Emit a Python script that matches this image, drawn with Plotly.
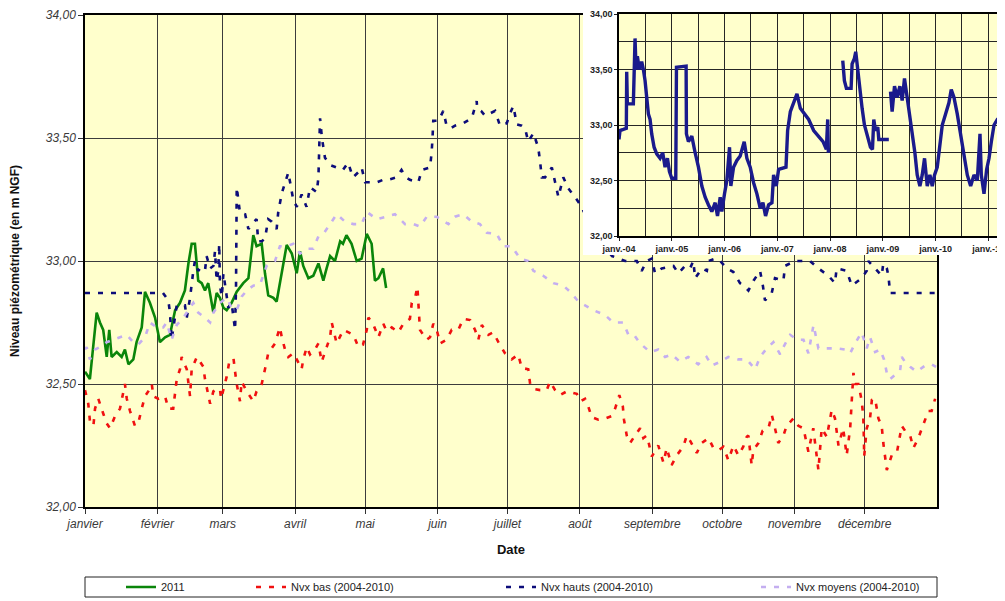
import plotly.graph_objects as go
import pandas as pd

# ---------------- data (main chart: day of year 2011, level in m NGF) ----------------
months_fr = ["janvier", "février", "mars", "avril", "mai", "juin", "juillet",
             "août", "septembre", "octobre", "novembre", "décembre"]

y2011_days = [0, 2.1, 5, 6.4, 7.8, 9.3, 10.4, 11.4, 13.6, 15.7, 17.1, 18.6, 20.7, 22.1, 24.3, 25.7,
              27.8, 30, 32.1, 34.3, 36.4, 38.6, 40.7, 42.8, 44.3, 45.7, 47.1, 48.5, 50, 51.4, 52.8,
              55, 56.4, 57.8, 59.3, 60.7, 62.8, 65, 67.8, 70, 72.1, 73.5, 75.7, 77.1, 78.5, 80.7,
              82.1, 83.5, 85, 86.4, 88.6, 90.7, 92.1, 93.5, 95.7, 97.8, 100, 102.1, 103.5, 105,
              107.1, 109.3, 110.5, 112, 114.2, 116.4, 118.5, 120.7, 122.8, 124.2, 125.7, 127.7, 129]
y2011_vals = [32.55, 32.52, 32.79, 32.75, 32.72, 32.61, 32.72, 32.61, 32.63, 32.61, 32.64, 32.58,
              32.60, 32.67, 32.73, 32.875, 32.83, 32.77, 32.67, 32.69, 32.70, 32.80, 32.83, 32.88,
              32.99, 33.07, 33.07, 32.92, 32.91, 32.88, 32.91, 32.79, 32.87, 32.85, 32.81, 32.80,
              32.83, 32.875, 32.91, 32.93, 33.105, 33.06, 33.07, 32.95, 32.86, 32.85, 32.835, 32.91,
              32.99, 33.065, 33.03, 32.95, 33.04, 32.98, 32.93, 32.94, 32.99, 32.92, 32.97, 33.02,
              33.00, 33.08, 33.07, 33.105, 33.07, 33.00, 33.01, 33.11, 33.07, 32.92, 32.93, 32.97, 32.89]

bas_days = [0, 1.4, 2.1, 3.6, 4.3, 5.7, 7.8, 9.3, 10.7, 12.9, 15, 16.4, 17.1, 17.9, 19.3, 21.4, 22.8,
            24.3, 25.7, 27.1, 28.6, 29.3, 31.4, 34.3, 35.7, 37.8, 38.6, 39.3, 40.7, 41.4, 43.6, 44.3,
            45, 45.7, 47.9, 50.7, 51.4, 53.6, 55, 56.4, 57.8, 58.3, 60.7, 61.8, 63.6, 64.3, 65, 66.4,
            67.1, 69.3, 72.1, 73.5, 75.7, 77.1, 78.5, 81.4, 83.5, 84.3, 85.7, 87.1, 89.2, 90.7, 92.8,
            93.5, 95, 96.4, 98.5, 100, 101.4, 102.8, 105, 105.7, 107.8, 110.7, 112.7, 115, 117.1,
            119.1, 120.7, 121.4, 123.4, 125.7, 127.8, 129.2, 131.4, 134.2, 136.4, 139.2, 140, 141.4,
            142.4, 142.8, 143.1, 143.5, 144.9, 146.4, 147.8, 149.2, 150.7, 152.1, 154.9, 157.1,
            159.9, 162.1, 165, 167.1, 168.5, 170, 172.8, 174.9, 177.1, 179.9, 182.8, 185.6, 187.1,
            189.9, 190.7, 192.1, 195, 197.8, 199.2, 201.4, 203.5, 206.4, 210.7, 212.4, 214.2, 215.2,
            217.1, 219.9, 222.8, 225.7, 227.1, 228.9, 230.4, 230.9, 232.1, 233.5, 235.6, 237.8,
            239.2, 240.6, 241.4, 242.8, 245.6, 247.8, 249.2, 251.3, 253.5, 256.3, 257.8, 259.2,
            262.1, 264.2, 267.1, 269.2, 271.3, 273.5, 275.6, 277.8, 279.9, 282, 283.5, 284.2, 285.6,
            286.3, 288.5, 290.3, 292.8, 294.2, 295.6, 297, 299.2, 300.6, 303.5, 305.6, 307.8, 309.9,
            312, 312.8, 314.2, 315.6, 317.8, 319.9, 321.3, 322.8, 324.8, 326.3, 327.8, 328.5, 329.2,
            329.9, 331.3, 332.7, 333.4, 333.7, 333.8, 334.9, 336.3, 337.1, 338.5, 339.9, 341.3, 342,
            342.8, 343.5, 345.6, 347.8, 349.9, 351.3, 353.5, 354.9, 357, 359.2, 361.3, 362.7, 364.2]
bas_vals = [32.475, 32.42, 32.35, 32.33, 32.40, 32.44, 32.38, 32.34, 32.32, 32.37, 32.40, 32.47, 32.50,
            32.44, 32.39, 32.33, 32.34, 32.40, 32.45, 32.47, 32.50, 32.45, 32.44, 32.45, 32.40, 32.40,
            32.46, 32.52, 32.56, 32.61, 32.56, 32.50, 32.45, 32.56, 32.61, 32.57, 32.52, 32.42, 32.47,
            32.48, 32.48, 32.44, 32.53, 32.59, 32.605, 32.55, 32.50, 32.43, 32.51, 32.47, 32.43, 32.47,
            32.50, 32.56, 32.625, 32.665, 32.73, 32.69, 32.64, 32.61, 32.625, 32.60, 32.56, 32.60,
            32.65, 32.62, 32.64, 32.665, 32.59, 32.63, 32.69, 32.75, 32.665, 32.72, 32.71, 32.70,
            32.65, 32.66, 32.72, 32.77, 32.745, 32.69, 32.745, 32.715, 32.73, 32.71, 32.745, 32.765,
            32.83, 32.85, 32.895, 32.84, 32.78, 32.72, 32.70, 32.68, 32.69, 32.745, 32.72, 32.665,
            32.68, 32.72, 32.72, 32.765, 32.76, 32.72, 32.68, 32.74, 32.70, 32.71, 32.67, 32.625,
            32.60, 32.62, 32.565, 32.56, 32.50, 32.48, 32.475, 32.475, 32.51, 32.475, 32.455, 32.47,
            32.46, 32.43, 32.44, 32.42, 32.365, 32.355, 32.36, 32.37, 32.40, 32.455, 32.41, 32.355,
            32.29, 32.26, 32.29, 32.32, 32.28, 32.29, 32.265, 32.205, 32.25, 32.18, 32.24, 32.17,
            32.21, 32.245, 32.29, 32.27, 32.22, 32.26, 32.28, 32.24, 32.23, 32.245, 32.19, 32.25,
            32.21, 32.245, 32.285, 32.29, 32.17, 32.23, 32.26, 32.31, 32.32, 32.375, 32.32, 32.26,
            32.29, 32.33, 32.36, 32.33, 32.32, 32.225, 32.32, 32.265, 32.15, 32.32, 32.285, 32.395,
            32.36, 32.25, 32.32, 32.21, 32.32, 32.435, 32.545, 32.50, 32.50, 32.435, 32.37, 32.27,
            32.205, 32.32, 32.36, 32.435, 32.44, 32.36, 32.33, 32.26, 32.205, 32.15, 32.21, 32.22,
            32.33, 32.31, 32.29, 32.24, 32.28, 32.34, 32.39, 32.39, 32.44]

hauts_days = [0, 33.4, 35.7, 36.4, 37.1, 37.8, 39.3, 40.7, 42.8, 43.6, 45, 46.4, 47.1, 48.5, 49.3, 51.4,
              52.1, 53.6, 55, 55.7, 56.4, 57.1, 57.5, 57.8, 58.6, 59.3, 60.7, 61.4, 62.8, 63.6, 64.3,
              64.7, 65, 66.4, 68.6, 70, 71.4, 73.5, 74.2, 75.7, 77.1, 78.5, 80, 82.1, 82.8, 84.3, 85.7,
              87.1, 89.2, 90.7, 92.8, 94.9, 96.4, 99.3, 100, 100.7, 101.5, 102.8, 105, 107.5, 110.5,
              112.7, 114.8, 117, 118.5, 120, 122.5, 125, 127.7, 129.8, 133.5, 135.6, 137.5, 139.2,
              142.8, 144.3, 147.8, 148.5, 148.9, 149.2, 151.4, 153.5, 154.9, 156.8, 158.5, 162.1,
              165.7, 167.8, 168, 169.7, 171.4, 173.5, 175.7, 177.8, 180.7, 182.1, 183.5, 185, 187.1,
              188.5, 189.9, 192.1, 194.2, 195, 195.7, 197.1, 200, 201.4, 202.8, 204.9, 207.1, 209.9,
              212.1, 216.4, 220.7, 225.8, 231.4, 236.4, 238.5, 240.6, 242.8, 244.2, 247.1, 252.1,
              254.2, 257.1, 259.2, 260.6, 261.4, 264.3, 266.4, 267.1, 270, 272.1, 274.9, 277.8, 280.6,
              282.1, 284.2, 286.4, 289.2, 290.4, 291.3, 294.2, 295.6, 299.2, 299.9, 304.2, 310.6,
              314.2, 318.5, 321.3, 322, 326.3, 328.5, 332.7, 334.9, 335.6, 338.5, 341.3, 342, 343.5,
              344.2, 344.9, 364.6]
hauts_vals = [32.87, 32.87, 32.84, 32.79, 32.68, 32.72, 32.82, 32.82, 32.82, 32.77, 32.85, 32.96, 33.00,
              32.96, 32.97, 32.96, 33.02, 32.97, 32.98, 33.04, 32.92, 32.96, 33.07, 32.90, 32.855, 32.95,
              32.855, 32.81, 32.83, 32.76, 32.72, 32.90, 33.30, 33.195, 33.19, 33.13, 33.15, 33.17,
              33.08, 33.08, 33.09, 33.17, 33.16, 33.13, 33.20, 33.275, 33.32, 33.36, 33.25, 33.22,
              33.27, 33.22, 33.30, 33.28, 33.34, 33.58, 33.50, 33.42, 33.39, 33.38, 33.37, 33.40,
              33.34, 33.36, 33.38, 33.32, 33.32, 33.32, 33.33, 33.33, 33.34, 33.37, 33.34, 33.33,
              33.32, 33.37, 33.38, 33.44, 33.505, 33.57, 33.57, 33.61, 33.55, 33.54, 33.55, 33.56,
              33.58, 33.65, 33.62, 33.61, 33.59, 33.60, 33.61, 33.55, 33.56, 33.60, 33.63, 33.555,
              33.55, 33.54, 33.485, 33.52, 33.46, 33.40, 33.34, 33.34, 33.38, 33.32, 33.26, 33.34,
              33.295, 33.26, 33.23, 33.15, 33.08, 33.02, 33.00, 33.00, 32.96, 33.00, 33.01, 32.95,
              32.97, 32.98, 32.95, 32.98, 32.97, 33.00, 32.93, 32.97, 32.96, 33.00, 33.01, 33.00,
              32.97, 32.955, 32.91, 32.90, 32.88, 32.92, 32.96, 32.90, 32.84, 32.87, 32.93, 32.92,
              32.98, 33.00, 33.00, 32.97, 32.94, 32.91, 32.97, 32.96, 32.90, 32.93, 32.96, 33.00,
              32.97, 32.94, 32.99, 32.97, 32.94, 32.87, 32.87]

moyens_days = [0, 0.7, 2.1, 4.3, 6.4, 9.3, 12.1, 15, 17.9, 20.7, 22.8, 25.7, 27.8, 30.7, 33.5, 35,
               37.1, 39.3, 42.1, 44.3, 46.4, 48.5, 51.4, 53.6, 55, 57.8, 60.7, 62.8, 65, 67.1, 69.3,
               72.1, 75, 77.8, 81.4, 83.5, 86.4, 89.2, 92.1, 95, 97.8, 100, 102.1, 105, 107.8, 111.4,
               115, 118.5, 120.7, 125, 128.5, 132.8, 137.1, 140.7, 143.5, 146.4, 150.7, 155.7, 158.5,
               162.1, 165.7, 169.2, 172.1, 176.4, 179.2, 182.8, 186.4, 189.9, 192.1, 196.3, 200.6,
               204.9, 207.8, 211.4, 214.2, 217.8, 222.8, 226.3, 230.6, 232.8, 235.2, 237.8, 242.1,
               245.6, 248.5, 251.4, 254.9, 258.4, 262.7, 266.3, 268.5, 272.1, 275.6, 279.9, 283.5,
               287.1, 289.2, 292.1, 294.9, 297.8, 299.2, 302.1, 305, 307.8, 309.9, 311.4, 312.1,
               314.2, 318.5, 322.1, 325.7, 327.8, 329.9, 332.7, 334.9, 336.3, 338.5, 340.6, 342.3,
               343.5, 344.9, 349.2, 349.9, 351.3, 353.5, 356.3, 359.9, 362.7, 364.6]
moyens_vals = [32.64, 32.65, 32.60, 32.64, 32.65, 32.67, 32.68, 32.69, 32.70, 32.67, 32.66, 32.69,
               32.75, 32.73, 32.73, 32.75, 32.68, 32.74, 32.77, 32.80, 32.83, 32.79, 32.77, 32.75,
               32.79, 32.83, 32.85, 32.81, 32.80, 32.855, 32.88, 32.90, 32.905, 32.98, 33.00, 33.06,
               33.06, 33.07, 33.03, 33.05, 33.05, 33.10, 33.11, 33.15, 33.19, 33.16, 33.15, 33.15,
               33.20, 33.17, 33.18, 33.19, 33.15, 33.15, 33.14, 33.18, 33.18, 33.15, 33.18, 33.19,
               33.16, 33.15, 33.115, 33.11, 33.06, 33.06, 33.01, 33.00, 32.96, 32.94, 32.91, 32.90,
               32.875, 32.835, 32.82, 32.80, 32.78, 32.75, 32.75, 32.70, 32.70, 32.665, 32.63, 32.64,
               32.61, 32.62, 32.59, 32.61, 32.58, 32.61, 32.575, 32.59, 32.61, 32.60, 32.60, 32.56,
               32.61, 32.645, 32.67, 32.62, 32.65, 32.70, 32.68, 32.68, 32.625, 32.70, 32.74, 32.645,
               32.645, 32.645, 32.64, 32.625, 32.665, 32.71, 32.645, 32.69, 32.63, 32.64, 32.60,
               32.545, 32.52, 32.555, 32.61, 32.59, 32.57, 32.55, 32.575, 32.58, 32.57]

# ---------------- data (inset: 2004-2011 record, years since 2004-01-01) ----------------
inset_years = [0.000, 0.019, 0.082, 0.139, 0.146, 0.158, 0.272, 0.285, 0.304, 0.323, 0.348, 0.386,
               0.430, 0.462, 0.494, 0.525, 0.557, 0.589, 0.620, 0.665, 0.715, 0.778, 0.829, 0.873,
               0.918, 0.956, 1.000, 1.076, 1.089, 1.272, 1.278, 1.316, 1.380, 1.443, 1.506, 1.570,
               1.633, 1.696, 1.759, 1.823, 1.867, 1.918, 1.949, 2.000, 2.044, 2.095, 2.120, 2.171,
               2.234, 2.297, 2.373, 2.424, 2.487, 2.551, 2.614, 2.677, 2.728, 2.778, 2.835, 2.899,
               2.930, 2.981, 3.025, 3.165, 3.196, 3.247, 3.310, 3.373, 3.437, 3.513, 3.595, 3.690,
               3.785, 3.867, 3.930, 3.956, 3.968, 4.100,
               4.241, 4.272, 4.310, 4.399, 4.418, 4.462, 4.487, 4.525, 4.563, 4.608, 4.652, 4.703,
               4.766, 4.804, 4.829, 4.861, 4.905, 4.924, 5.114, 5.130,
               5.146, 5.177, 5.222, 5.272, 5.323, 5.367, 5.411, 5.462, 5.513, 5.557, 5.608, 5.652,
               5.703, 5.747, 5.791, 5.842, 5.892, 5.937, 5.981, 6.032, 6.082, 6.127, 6.190, 6.253,
               6.297, 6.348, 6.411, 6.475, 6.538, 6.601, 6.665, 6.728, 6.791, 6.842, 6.867, 6.918,
               6.968, 7.013, 7.057, 7.108, 7.171, 7.234, 7.285, 7.329]
inset_vals = [32.87, 32.95, 32.96, 32.97, 33.48, 33.19, 33.19, 33.60, 33.78, 33.50, 33.62, 33.50,
              33.57, 33.50, 33.40, 33.25, 33.10, 33.05, 32.92, 32.80, 32.74, 32.70, 32.75, 32.62,
              32.70, 32.58, 32.52, 32.52, 33.52, 33.53, 32.92, 32.85, 32.90, 32.75, 32.62, 32.45,
              32.35, 32.28, 32.22, 32.30, 32.18, 32.35, 32.22, 32.38, 32.50, 32.80, 32.45, 32.62,
              32.68, 32.72, 32.85, 32.70, 32.62, 32.48, 32.38, 32.25, 32.30, 32.18, 32.28, 32.30,
              32.55, 32.45, 32.60, 32.62, 32.95, 33.12, 33.20, 33.28, 33.15, 33.10, 33.05, 32.95,
              32.90, 32.85, 32.78, 33.05, 32.75, None,
              33.58, 33.40, 33.33, 33.33, 33.55, 33.60, 33.66, 33.50, 33.30, 33.15, 33.00, 32.90,
              32.80, 32.78, 33.05, 32.95, 32.98, 32.87, 32.87, None,
              33.30, 33.12, 33.35, 33.25, 33.35, 33.22, 33.42, 33.25, 33.05, 32.95, 32.75, 32.55,
              32.45, 32.55, 32.70, 32.45, 32.55, 32.45, 32.55, 32.62, 32.80, 33.00, 33.10, 33.20,
              33.32, 33.25, 33.10, 32.90, 32.70, 32.55, 32.45, 32.55, 32.50, 32.92, 32.55, 32.38,
              32.60, 32.70, 32.85, 33.00, 33.05, 33.05, 32.95, 33.05]
inset_years_ticks = [2004, 2005, 2006, 2007, 2008, 2009, 2010, 2011]
inset_end_years = 7.316

# ---------------- helpers ----------------
base_2011 = pd.Timestamp("2011-01-01")
def day_to_date(days):
    return [base_2011 + pd.Timedelta(days=float(d)) for d in days]

base_2004 = pd.Timestamp("2004-01-01")
def yr_to_date(y):
    return base_2004 + pd.Timedelta(days=float(y) * 365.25)

month_ticks = [pd.Timestamp(2011, m, 1) for m in range(1, 13)]

# the page body has an 8px margin: the figure is placed at (8, 8) in the 1005x601 window
OFF = 8
W, H = 1005 - OFF, 601 - OFF
def px_x(p):
    return min(1.0, max(0.0, (p - OFF) / W))
def px_y(p):
    return min(1.0, max(0.0, 1 - (p - OFF) / H))

FONT = "Liberation Sans, Arial, sans-serif"
NAVY = "#0c0c7a"
RED = "#f01010"
LAV = "#c4aef0"
GREEN = "#0a850a"
DASH = "5px,8px"

fig = go.Figure()

# main series
fig.add_trace(go.Scatter(x=day_to_date(y2011_days), y=y2011_vals, mode="lines", name="2011",
                         line=dict(color=GREEN, width=2.6), legend="legend"))
fig.add_trace(go.Scatter(x=day_to_date(bas_days), y=bas_vals, mode="lines", name="Nvx bas (2004-2010)",
                         line=dict(color=RED, width=2.6, dash=DASH), legend="legend2"))
fig.add_trace(go.Scatter(x=day_to_date(hauts_days), y=hauts_vals, mode="lines", name="Nvx hauts (2004-2010)",
                         line=dict(color=NAVY, width=2.6, dash=DASH), legend="legend3"))
fig.add_trace(go.Scatter(x=day_to_date(moyens_days), y=moyens_vals, mode="lines", name="Nvx moyens (2004-2010)",
                         line=dict(color=LAV, width=2.6, dash=DASH), legend="legend4"))

# white frame behind the inset (separate subplot drawn above the main one)
fig.add_trace(go.Scatter(x=[0, 1, 1, 0, 0], y=[0, 0, 1, 1, 0], xaxis="x2", yaxis="y2",
                         fill="toself", fillcolor="white", mode="lines", line=dict(width=0, color="white"),
                         showlegend=False, hoverinfo="skip"))

# inset series
fig.add_trace(go.Scatter(x=[yr_to_date(y) for y in inset_years], y=inset_vals, xaxis="x3", yaxis="y3",
                         mode="lines", line=dict(color="#1a1a8c", width=3.4), connectgaps=False,
                         showlegend=False, hoverinfo="skip"))

tickfont_main = dict(family=FONT, size=12, color="#3a3a3a", style="italic")
tickfont_inset = dict(family=FONT, size=9, color="#222222", weight="bold")
GRID = "#3c3c3c"
IGRID = "#262626"

legend_common = dict(orientation="h", yanchor="middle", y=px_y(587), xanchor="left",
                     bgcolor="rgba(0,0,0,0)", borderwidth=0,
                     font=dict(family=FONT, size=11, color="#222222"))

fig.update_layout(
    width=W, height=H,
    margin=dict(l=0, r=0, t=0, b=0, autoexpand=False),
    paper_bgcolor="white",
    plot_bgcolor="#FFFFCC",
    separators=",.",
    showlegend=True,
    legend=dict(legend_common, x=px_x(121)),
    legend2=dict(legend_common, x=px_x(251)),
    legend3=dict(legend_common, x=px_x(501)),
    legend4=dict(legend_common, x=px_x(756)),
    xaxis=dict(domain=[px_x(85), px_x(937)], anchor="y", type="date", automargin=False,
               range=[base_2011, pd.Timestamp("2012-01-01")],
               tickmode="array", tickvals=month_ticks, ticktext=months_fr,
               tickfont=tickfont_main, ticks="outside", ticklen=5, tickcolor="#333",
               showgrid=True, gridcolor=GRID, gridwidth=1.2,
               showline=True, linecolor="black", linewidth=1.5, mirror=True,
               zeroline=False,
               title=dict(text="Date", font=dict(family=FONT, size=13, color="#111", weight="bold"))),
    yaxis=dict(domain=[px_y(507), px_y(15)], anchor="x", range=[32, 34], dtick=0.5, tick0=32,
               automargin=False,
               tickformat=".2f", tickfont=tickfont_main, ticks="outside", ticklen=5, tickcolor="#333",
               showgrid=True, gridcolor=GRID, gridwidth=1.2,
               showline=True, linecolor="black", linewidth=1.5, mirror=True,
               zeroline=False,
               title=dict(text="Niveau piézométrique (en m NGF)", standoff=26,
                          font=dict(family=FONT, size=12, color="#111", weight="bold"))),
    xaxis2=dict(domain=[px_x(583), 1], anchor="y2", range=[0, 1], visible=False, fixedrange=True,
                automargin=False),
    yaxis2=dict(domain=[px_y(255), 1], anchor="x2", range=[0, 1], visible=False, fixedrange=True,
                automargin=False),
    xaxis3=dict(domain=[px_x(619), 1], anchor="y3", type="date", automargin=False,
                range=[base_2004, yr_to_date(inset_end_years)],
                tickmode="array", tickvals=[pd.Timestamp(y, 1, 1) for y in inset_years_ticks],
                ticktext=["janv.-%02d" % (y % 100) for y in inset_years_ticks],
                tickfont=tickfont_inset, ticks="outside", ticklen=3, tickcolor="#222",
                showgrid=True, gridcolor=IGRID, gridwidth=1,
                minor=dict(dtick="M6", tick0="2004-01-01", showgrid=True, gridcolor=IGRID,
                           gridwidth=1, ticks=""),
                showline=True, linecolor="black", linewidth=1.5, mirror=True, zeroline=False),
    yaxis3=dict(domain=[px_y(236), px_y(14)], anchor="x3", range=[32, 34], dtick=0.5, tick0=32,
                automargin=False,
                tickformat=".2f", tickfont=tickfont_inset, ticks="outside", ticklen=3, tickcolor="#222",
                showgrid=True, gridcolor=IGRID, gridwidth=1,
                minor=dict(dtick=0.25, showgrid=True, gridcolor=IGRID, gridwidth=1, ticks=""),
                showline=True, linecolor="black", linewidth=1.5, mirror=True, zeroline=False),
    shapes=[dict(type="rect", xref="paper", yref="paper",
                 x0=px_x(85), x1=px_x(937), y0=px_y(597), y1=px_y(577),
                 line=dict(color="#222", width=1), fillcolor="rgba(0,0,0,0)", layer="above")],
)

fig.write_html("out.html")
